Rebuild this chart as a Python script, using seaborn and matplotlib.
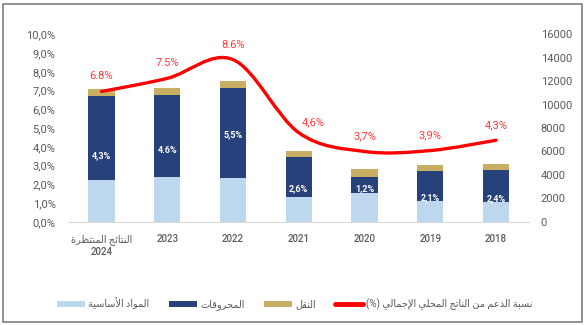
import numpy as np
import pandas as pd
import seaborn as sns
import matplotlib
matplotlib.use("Agg")
import matplotlib.pyplot as plt
from matplotlib.path import Path
from matplotlib.patches import PathPatch, Patch, Rectangle
from matplotlib.lines import Line2D
from matplotlib.ticker import FuncFormatter, FixedLocator

# ---------------- data ----------------
years = ["النتائج المنتظرة\n2024", "2023", "2022", "2021", "2020", "2019", "2018"]
basic = [3600, 3800, 3770, 2150, 2440, 1760, 1700]        # المواد الأساسية
fuel = [7100, 7000, 7610, 3350, 1410, 2550, 2720]          # المحروقات
transport = [650, 650, 620, 540, 650, 510, 490]            # النقل
share_pct = [6.95, 7.65, 8.65, 4.75, 3.75, 3.8, 4.35]      # % of GDP
share_labels = ["6.8%", "7.5%", "8.6%", "4,6%", "3,7%", "3,9%", "4,3%"]
fuel_labels = ["4,3%", "4.6%", "5,5%", "2,6%", "1,2%", "2,1%", "2,4%"]
series_names = ["المواد الأساسية", "المحروقات", "النقل",
                "نسبة الدعم من الناتج المحلي الإجمالي (%)"]

# layout (label placement, in bar-axis units)
fuel_label_y = [5615, 6060, 7400, 2800, 2860, 2050, 1995]

# ---------------- arabic shaping (visual order) ----------------
AR_FORMS = {
    'ا': (0xFE8D, 2), 'أ': (0xFE83, 2), 'إ': (0xFE87, 2), 'ئ': (0xFE89, 4),
    'ب': (0xFE8F, 4), 'ة': (0xFE93, 2), 'ت': (0xFE95, 4), 'ج': (0xFE9D, 4),
    'ح': (0xFEA1, 4), 'د': (0xFEA9, 2), 'ر': (0xFEAD, 2), 'س': (0xFEB1, 4),
    'ظ': (0xFEC5, 4), 'ع': (0xFEC9, 4), 'ق': (0xFED5, 4), 'ل': (0xFEDD, 4),
    'م': (0xFEE1, 4), 'ن': (0xFEE5, 4), 'و': (0xFEED, 2), 'ي': (0xFEF1, 4),
}
LAM_ALEF = {'ا': 0xFEFB, 'أ': 0xFEF7, 'إ': 0xFEF9, 'آ': 0xFEF5}
MIRROR = {'(': ')', ')': '('}


def _dual(c):
    return c in AR_FORMS and AR_FORMS[c][1] == 4


def ar(text):
    lines = []
    for line in text.split("\n"):
        if not any(c in AR_FORMS for c in line):
            lines.append(line)
            continue
        out = []
        i, n = 0, len(line)
        while i < n:
            c = line[i]
            if c not in AR_FORMS:
                out.append(c)
                i += 1
                continue
            prev = line[i - 1] if i > 0 else ''
            jp = _dual(prev)
            if c == 'ل' and i + 1 < n and line[i + 1] in LAM_ALEF:
                out.append(chr(LAM_ALEF[line[i + 1]] + (1 if jp else 0)))
                i += 2
                continue
            nxt = line[i + 1] if i + 1 < n else ''
            jn = _dual(c) and nxt in AR_FORMS
            base, _ = AR_FORMS[c]
            f = 3 if (jp and jn) else 1 if jp else 2 if jn else 0
            out.append(chr(base + f))
            i += 1
        lines.append(''.join(MIRROR.get(c, c) for c in reversed(out)))
    return "\n".join(lines)


# ---------------- style ----------------
sns.set_theme(style="white")
plt.rcParams['font.family'] = ['Roboto', 'DejaVu Sans']

C_BASIC = "#BDD7EE"
C_FUEL = "#27427A"
C_TRANS = "#C8AE62"
C_LINE = "#FF0000"
C_LBL = "#FF3B3B"
C_TXT = "#595959"

fig = plt.figure(figsize=(5.85, 3.25), dpi=100)
fig.patch.set_facecolor("white")
ax = fig.add_axes([68.6 / 585, 1 - 221.8 / 325, (529 - 68.6) / 585, (221.8 - 34.3) / 325])

df = pd.DataFrame({"year": years, "basic": basic, "fuel": fuel, "transport": transport})
df["lvl2"] = df["basic"] + df["fuel"]
df["lvl3"] = df["lvl2"] + df["transport"]

for col, colr in [("lvl3", C_TRANS), ("lvl2", C_FUEL), ("basic", C_BASIC)]:
    sns.barplot(data=df, x="year", y=col, order=years, color=colr, saturation=1,
                width=0.40, ax=ax, edgecolor="none", linewidth=0)

ax2 = ax.twinx()

ax.set_xlim(-0.5, len(years) - 0.5)
ax.set_ylim(0, 16000)
ax.set_xlabel("")
ax.set_ylabel("")
ax.yaxis.tick_right()
ax.yaxis.set_label_position("right")
ax.set_yticks(np.arange(0, 16001, 2000))
ax.yaxis.set_major_formatter(FuncFormatter(lambda v, p: f"{int(v)}"))
ax.tick_params(axis="y", which="both", left=False, labelleft=False, right=False,
               labelright=True, length=0, pad=8.4, labelsize=8, labelcolor=C_TXT)

ax.xaxis.set_major_locator(FixedLocator(range(len(years))))
ax.set_xticklabels([ar(y) for y in years], fontsize=7, color=C_TXT, fontweight="medium",
                   linespacing=1.3)
ax.xaxis.set_minor_locator(FixedLocator(np.arange(-0.5, len(years), 1.0)))
ax.tick_params(axis="x", which="major", length=0, pad=8.6)
ax.tick_params(axis="x", which="minor", length=4, color="#BFBFBF", width=0.8)

for s in ["top", "left", "right"]:
    ax.spines[s].set_visible(False)
ax.spines["bottom"].set_color("#D9D9D9")
ax.spines["bottom"].set_linewidth(0.8)

for i, (lbl, yy) in enumerate(zip(fuel_labels, fuel_label_y)):
    ax.text(i, yy, lbl, ha="center", va="center", color="white", fontsize=6.5,
            fontweight="bold")

# ---------------- line on twin (left) axis ----------------
ax2.yaxis.tick_left()
ax2.yaxis.set_label_position("left")
ax2.set_ylim(0, 10)
ax2.set_yticks(np.arange(0, 10.01, 1))
ax2.yaxis.set_major_formatter(FuncFormatter(lambda v, p: f"{v:.1f}%".replace(".", ",")))
ax2.tick_params(axis="y", which="both", left=False, labelleft=True, right=False,
                labelright=False, length=0, pad=9.3, labelsize=8, labelcolor=C_TXT)
for s in ["top", "left", "right", "bottom"]:
    ax2.spines[s].set_visible(False)

xs = np.arange(len(share_pct), dtype=float)
pts = np.column_stack([xs, share_pct])
verts = [pts[0]]
codes = [Path.MOVETO]
n = len(pts)
for i in range(n - 1):
    p_prev = pts[i - 1] if i > 0 else pts[i]
    p_next2 = pts[i + 2] if i + 2 < n else pts[i + 1]
    c1 = pts[i] + (pts[i + 1] - p_prev) / 6.0
    c2 = pts[i + 1] - (p_next2 - pts[i]) / 6.0
    verts += [c1, c2, pts[i + 1]]
    codes += [Path.CURVE4] * 3
ax2.add_patch(PathPatch(Path(verts, codes), facecolor="none", edgecolor=C_LINE,
                        lw=2.4, capstyle="round", joinstyle="round", zorder=5))

offsets = [(0, 15)] * len(share_pct)
offsets[3] = (14, 11)
for i, (v, lbl) in enumerate(zip(share_pct, share_labels)):
    ax2.annotate(lbl, (i, v), xytext=offsets[i], textcoords="offset pixels",
                 ha="center", va="center", color=C_LBL, fontsize=8)

# ---------------- legend ----------------
handles = [
    Patch(facecolor=C_BASIC, edgecolor="none"),
    Patch(facecolor=C_FUEL, edgecolor="none"),
    Patch(facecolor=C_TRANS, edgecolor="none"),
    Line2D([0], [0], color=C_LINE, lw=3.5, solid_capstyle="round"),
]
leg = fig.legend(handles, [ar(s) for s in series_names], ncol=4, loc="center",
                 bbox_to_anchor=(295 / 585, 1 - 304 / 325), frameon=False,
                 fontsize=7, handlelength=2.9, handleheight=0.6,
                 handletextpad=0.3, columnspacing=2.0, labelcolor=C_TXT)

# outer frame
fig.patches.append(Rectangle((2.5 / 585, 3.0 / 325), 579.5 / 585, 318.5 / 325,
                             transform=fig.transFigure, fill=False,
                             edgecolor="#7F7F7F", linewidth=1.2))

fig.savefig("out.png", dpi=100)
